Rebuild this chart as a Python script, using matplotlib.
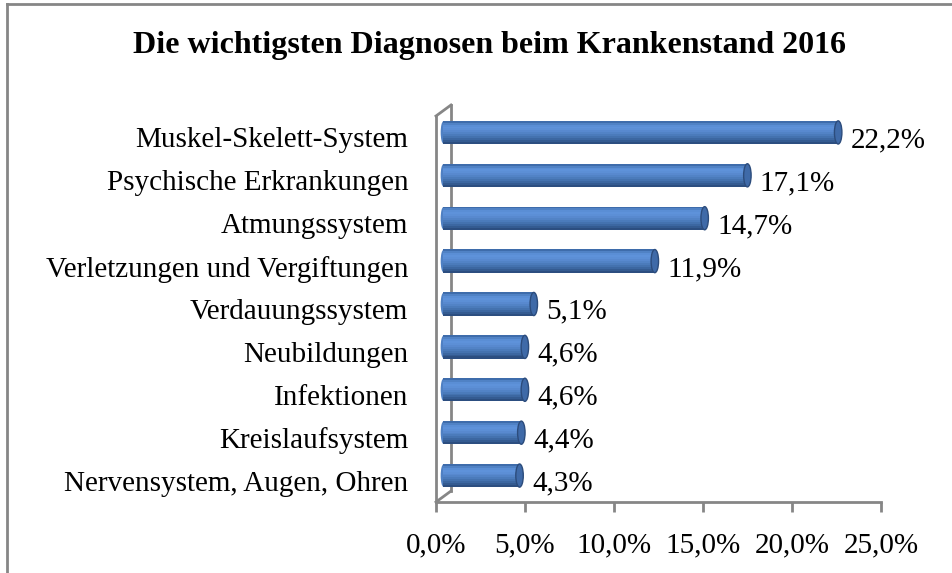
import numpy as np
import matplotlib
matplotlib.use("Agg")
import matplotlib.pyplot as plt
from matplotlib.transforms import ScaledTranslation
from matplotlib.patches import Ellipse

title = "Die wichtigsten Diagnosen beim Krankenstand 2016"
categories = [
    "Muskel-Skelett-System",
    "Psychische Erkrankungen",
    "Atmungssystem",
    "Verletzungen und Vergiftungen",
    "Verdauungssystem",
    "Neubildungen",
    "Infektionen",
    "Kreislaufsystem",
    "Nervensystem, Augen, Ohren",
]
values = [22.2, 17.1, 14.7, 11.9, 5.1, 4.6, 4.6, 4.4, 4.3]
xticks = [0, 5, 10, 15, 20, 25]


def fmt(v):
    return f"{v:.1f}".replace(".", ",") + "%"


def main():
    plt.rcParams["font.family"] = ["Liberation Serif", "DejaVu Serif"]
    W, H = 953, 573
    fs = 21
    fig = plt.figure(figsize=(W / 100, H / 100), dpi=100)
    ax = fig.add_axes([436 / W, 71 / H, 445 / W, 386 / H])

    n = len(categories)
    ypos = np.arange(n)[::-1]
    ax.set_xlim(0, 25)
    ax.set_ylim(-0.5, n - 0.5)

    gray = "#868686"
    # 3d shift of the bars (mid depth) and of the back wall
    bar_tr = ax.transData + ScaledTranslation(0.07, 0.05, fig.dpi_scale_trans)
    wall_tr = ax.transAxes + ScaledTranslation(0.15, 0.11, fig.dpi_scale_trans)

    # cylinder body as horizontal stripes
    bh = 0.54
    shades = ["#3e6cab", "#5082c5", "#5a8ed5", "#5e92da", "#5c8fd6", "#5889cf",
              "#5283c6", "#4b7bbb", "#4472af", "#3c67a1", "#345b91", "#2c4e80"]
    k = len(shades)
    for i, c in enumerate(shades):
        off = bh / 2 - (i + 0.5) * bh / k
        ax.barh(ypos + off, values, height=bh / k + 0.005, left=0, color=c,
                linewidth=0, transform=bar_tr, zorder=3)
    for v, y in zip(values, ypos):
        ax.add_patch(Ellipse((v, y), 0.42, bh, facecolor="#3f6aa8",
                             edgecolor="#2c4c7c", lw=1, transform=bar_tr, zorder=4))
        ax.add_patch(Ellipse((0.02, y), 0.3, bh * 0.96, facecolor="#4f80c3",
                             edgecolor="none", transform=bar_tr, zorder=2))
        ax.annotate(fmt(v), (v, y), xytext=(14, -2), textcoords="offset points",
                    fontsize=fs, va="center", ha="left", annotation_clip=False)

    # wall
    ax.plot([0, 0], [0, 1], color=gray, lw=2, transform=ax.transAxes, clip_on=False)
    ax.plot([0, 0], [0, 1], color=gray, lw=2, transform=wall_tr, clip_on=False)
    for yy in (0, 1):
        x0, y0 = ax.transAxes.transform((0, yy))
        x1, y1 = wall_tr.transform((0, yy))
        fig.add_artist(plt.Line2D([x0 / W, x1 / W], [y0 / H, y1 / H], color=gray, lw=2))

    for s in ("left", "top", "right"):
        ax.spines[s].set_visible(False)
    ax.spines["bottom"].set_color(gray)
    ax.spines["bottom"].set_linewidth(2)

    ax.set_yticks(ypos)
    ax.set_yticklabels(categories, fontsize=fs)
    ax.tick_params(axis="y", length=0, pad=20)
    ax.set_xticks(xticks)
    ax.set_xticklabels([fmt(t) for t in xticks], fontsize=fs)
    ax.tick_params(axis="x", length=7, width=2, color=gray, pad=15)

    fig.text(490 / W, 1 - 46 / H, title, fontsize=23, fontweight="bold",
             ha="center", va="center")

    # chart frame
    fig.add_artist(plt.Line2D([7 / W, 7 / W], [0, 1 - 4 / H], color=gray, lw=2))
    fig.add_artist(plt.Line2D([7 / W, 1], [1 - 4 / H, 1 - 4 / H], color=gray, lw=2))

    fig.savefig("out.png", dpi=100)


if __name__ == "__main__":
    main()
